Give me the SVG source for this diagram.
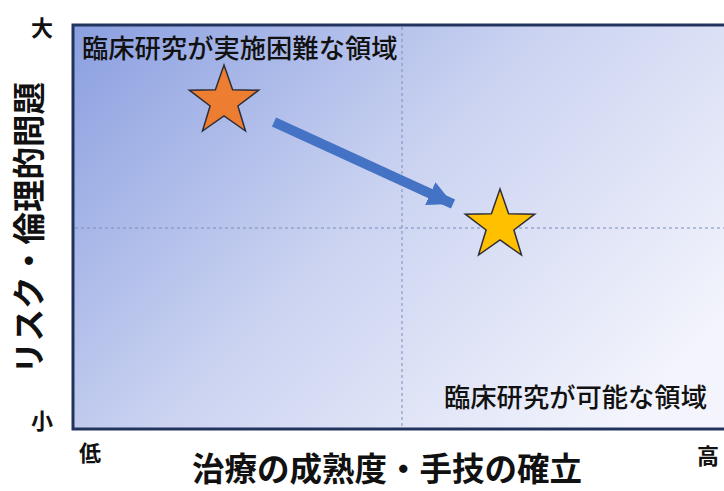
<svg xmlns="http://www.w3.org/2000/svg" width="724" height="491" viewBox="0 0 724 491">
<defs>
<linearGradient id="bg" gradientUnits="userSpaceOnUse" x1="73" y1="25" x2="560" y2="500">
<stop offset="0" stop-color="#8a9fe0"/>
<stop offset="0.5" stop-color="#cbd3f1"/>
<stop offset="1" stop-color="#f4f5fc"/>
</linearGradient>
<marker id="ah" viewBox="0 0 10 10" refX="10" refY="5" markerWidth="2.5" markerHeight="2.5" orient="auto" markerUnits="strokeWidth">
<path d="M0,0 L10,5 L0,10 Z" fill="#4472c4"/>
</marker>
<style>
text{font-family:"Noto Sans CJK JP","Noto Sans",sans-serif;fill:#111;}
.lbl{font-size:26.3px;font-weight:500;}
.ax{font-size:32.5px;font-weight:700;}
.tick{font-size:22px;font-weight:700;}
.grid{stroke:#7d8db8;stroke-width:1;stroke-dasharray:3,3;fill:none;}
.star{stroke:#2e2e3a;stroke-width:1.5;stroke-linejoin:miter;}
</style>
</defs>
<g id="plot">
<rect x="73" y="25" width="660" height="404" fill="url(#bg)" stroke="#22345e" stroke-width="3"/>
<line class="grid" x1="402" y1="27" x2="402" y2="427"/>
<line class="grid" x1="75" y1="228" x2="724" y2="228"/>
</g>
<g id="label-hard"><text class="lbl" x="82" y="58">臨床研究が実施困難な領域</text></g>
<g id="label-possible"><text class="lbl" x="444" y="407">臨床研究が可能な領域</text></g>
<g id="star-orange">
<polygon class="star" fill="#ed7d31" points="224,65 232.6,89.7 258.7,90.2 237.9,106 245.5,131 224,116 202.5,131 210.1,106 189.3,90.2 215.4,89.7"/>
</g>
<g id="star-yellow">
<polygon class="star" fill="#ffc000" points="500,189 508.6,213.7 534.7,214.2 513.9,230 521.5,255 500,240 478.5,255 486.1,230 465.3,214.2 491.4,213.7"/>
</g>
<g id="connectors">
<line x1="274" y1="122" x2="453" y2="204" stroke="#4472c4" stroke-width="10" marker-end="url(#ah)"/>
</g>
<g id="axes-labels">
<text class="tick" x="42" y="36" text-anchor="middle">大</text>
<text class="tick" x="42" y="429" text-anchor="middle">小</text>
<text class="tick" x="90" y="461" text-anchor="middle">低</text>
<text class="tick" x="708" y="464" text-anchor="middle">高</text>
<text class="ax" x="387" y="481" text-anchor="middle">治療の成熟度・手技の確立</text>
<text class="ax" transform="translate(41,228) rotate(-90)" text-anchor="middle">リスク・倫理的問題</text>
</g>
</svg>
